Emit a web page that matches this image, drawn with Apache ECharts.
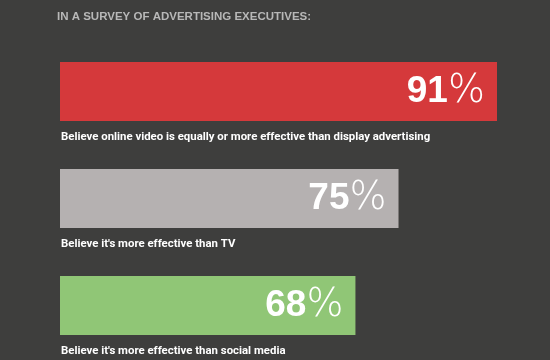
<!DOCTYPE html>
<html><head><meta charset="utf-8">
<script src="https://cdn.jsdelivr.net/npm/echarts@6/dist/echarts.min.js"></script>
<style>html,body{margin:0;padding:0;background:#3e3e3d}#c{width:550px;height:360px}</style>
</head><body><div id="c"></div>
<script>
const titleText = 'IN A SURVEY OF ADVERTISING EXECUTIVES:';
const categories = [
  'Believe online video is equally or more effective than display advertising',
  "Believe it's more effective than TV",
  "Believe it's more effective than social media"
];
const values = [91, 75, 68];
const colors = ['#d5393b', '#b5b1b1', '#90c676'];

const chart = echarts.init(document.getElementById('c'));
chart.setOption({
  backgroundColor: '#3e3e3d',
  title: {
    text: titleText, left: 52, top: 6,
    textStyle: { color: '#b8b8b8', fontSize: 11.5, fontWeight: 'bold', fontFamily: 'Liberation Sans' }
  },
  grid: { left: 60, right: 53, top: 38, bottom: 1 },
  xAxis: { type: 'value', min: 20, max: 91, show: false },
  yAxis: { type: 'category', data: categories, inverse: true, show: false },
  series: [
    {
      type: 'bar', barWidth: 59, silent: true,
      data: values.map((v, i) => ({ value: v, itemStyle: { color: colors[i] } })),
      label: {
        show: true, position: 'insideRight', distance: 12,
        formatter: p => '{n|' + p.value + '}{p|%}',
        rich: {
          n: { fontSize: 37, fontWeight: 'bold', color: '#fff', fontFamily: 'Liberation Sans' },
          p: { fontSize: 39, fontWeight: 200, color: '#fff', fontFamily: 'DejaVu Sans ExtraLight, DejaVu Sans' }
        }
      }
    },
    {
      type: 'bar', barWidth: 59, barGap: '-100%', silent: true,
      data: values,
      itemStyle: { color: 'rgba(0,0,0,0)' },
      label: {
        show: true, position: [1, '100%'], offset: [0, 11],
        align: 'left', verticalAlign: 'top',
        formatter: p => p.name,
        color: '#ffffff', fontSize: 11.4, fontWeight: 'bold', fontFamily: 'Roboto'
      }
    }
  ]
});
</script></body></html>
